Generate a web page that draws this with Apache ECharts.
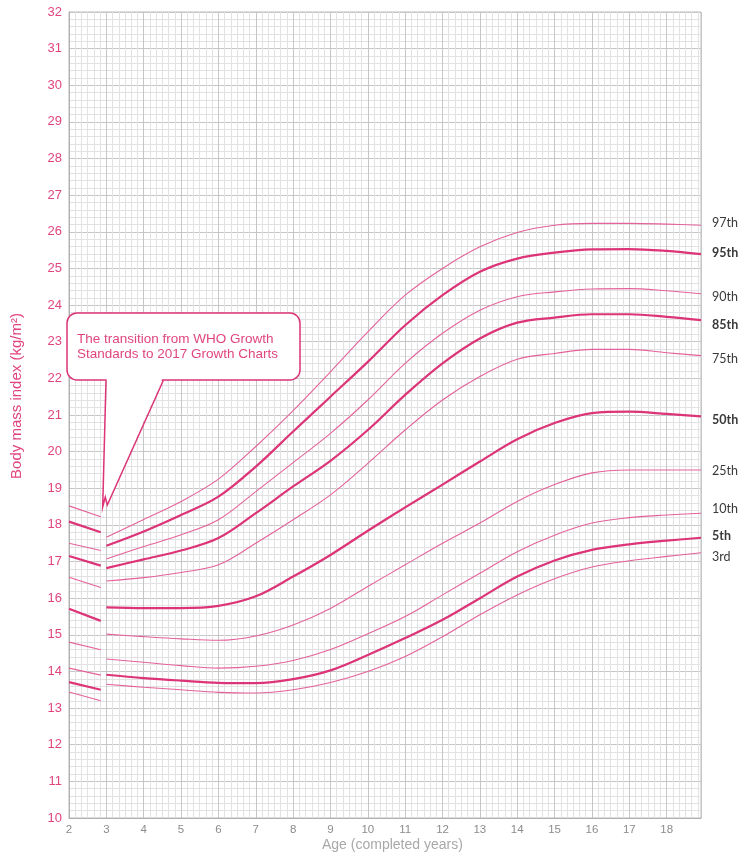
<!DOCTYPE html>
<html>
<head>
<meta charset="utf-8">
<title>BMI growth chart</title>
<style>html,body{margin:0;padding:0;background:#fff;}</style>
</head>
<body>
<div id="main" style="width:746px;height:867px;"></div>
<script src="https://cdn.jsdelivr.net/npm/echarts@6/dist/echarts.min.js"></script>
<script>
// ages: WHO part (2 to <3) and 2017 charts part (3 to 18y11m)
var whoAges = [2, 2.85];
var ages = [3, 4, 5, 6, 7, 8, 9, 10, 11, 12, 13, 14, 15, 16, 17, 18, 18.92];

var names = ['97th', '95th', '90th', '85th', '75th', '50th', '25th', '10th', '5th', '3rd'];
var boldNames = ['95th', '85th', '50th', '5th'];

// WHO segment, bmi at 2 and 2.85 years
var who97 = [18.52, 18.22];
var who95 = [18.09, 17.80];
var who90 = [17.50, 17.30];
var who85 = [17.15, 16.89];
var who75 = [16.57, 16.29];
var who50 = [15.71, 15.38];
var who25 = [14.80, 14.59];
var who10 = [14.09, 13.90];
var who5  = [13.71, 13.50];
var who3  = [13.44, 13.20];

// 2017 growth charts segment
var p97 = [17.66, 18.15, 18.64, 19.25, 20.14, 21.12, 22.18, 23.27, 24.27, 25.00, 25.59, 25.98, 26.18, 26.23, 26.23, 26.21, 26.18];
var p95 = [17.43, 17.82, 18.27, 18.77, 19.59, 20.55, 21.50, 22.45, 23.45, 24.27, 24.91, 25.27, 25.43, 25.52, 25.53, 25.48, 25.39];
var p90 = [17.07, 17.41, 17.73, 18.14, 18.91, 19.70, 20.50, 21.41, 22.41, 23.23, 23.86, 24.23, 24.36, 24.44, 24.45, 24.39, 24.31];
var p85 = [16.82, 17.06, 17.30, 17.64, 18.32, 19.05, 19.75, 20.59, 21.55, 22.41, 23.09, 23.52, 23.66, 23.75, 23.75, 23.68, 23.59];
var p75 = [16.47, 16.56, 16.70, 16.91, 17.50, 18.14, 18.82, 19.68, 20.59, 21.41, 22.05, 22.52, 22.68, 22.79, 22.79, 22.70, 22.62];
var p50 = [15.75, 15.73, 15.73, 15.79, 16.05, 16.59, 17.18, 17.84, 18.48, 19.10, 19.73, 20.34, 20.78, 21.05, 21.09, 21.03, 20.96];
var p25 = [15.02, 14.95, 14.89, 14.85, 14.97, 15.27, 15.72, 16.32, 16.91, 17.50, 18.05, 18.64, 19.10, 19.42, 19.50, 19.50, 19.50];
var p10 = [14.34, 14.25, 14.16, 14.09, 14.14, 14.30, 14.60, 15.03, 15.50, 16.09, 16.68, 17.27, 17.72, 18.05, 18.20, 18.27, 18.32];
var p5  = [13.91, 13.82, 13.75, 13.69, 13.68, 13.79, 14.03, 14.45, 14.91, 15.41, 16.00, 16.59, 17.03, 17.32, 17.47, 17.57, 17.65];
var p3  = [13.65, 13.57, 13.50, 13.43, 13.41, 13.50, 13.70, 14.00, 14.41, 14.95, 15.55, 16.09, 16.53, 16.85, 17.02, 17.14, 17.24];

var whoData = [who97, who95, who90, who85, who75, who50, who25, who10, who5, who3];
var chartData = [p97, p95, p90, p85, p75, p50, p25, p10, p5, p3];

// small vertical nudges for the right-hand labels
var labelShift = {'97th': -2, '95th': -1.5, '90th': 3.5, '85th': 5, '75th': 3.5, '50th': 3.5, '25th': 1, '10th': -4, '5th': -2, '3rd': 4.5};

var pink = '#dc3477';
var thinPink = '#e4629a';

function pairs(xs, ys) {
	var out = [];
	for (var i = 0; i < xs.length; i++) out.push([xs[i], ys[i]]);
	return out;
}

var series = [];
for (var i = 0; i < names.length; i++) {
	var isBold = boldNames.indexOf(names[i]) >= 0;
	var ls = {color: isBold ? pink : thinPink, width: isBold ? 2.2 : 1.1};
	series.push({
		name: names[i] + ' WHO',
		type: 'line',
		data: pairs(whoAges, whoData[i]),
		showSymbol: false,
		symbol: 'none',
		lineStyle: ls,
		silent: true
	});
	series.push({
		name: names[i],
		type: 'line',
		data: pairs(ages, chartData[i]),
		smooth: 0.35,
		showSymbol: false,
		symbol: 'none',
		lineStyle: ls,
		silent: true,
		endLabel: {
			show: true,
			formatter: '{a}',
			distance: 11,
			offset: [0, labelShift[names[i]]],
			color: '#3a3a3a',
			fontFamily: 'Lato',
			fontSize: 12.5,
			fontWeight: isBold ? 'bold' : 'normal'
		}
	});
}

var myChart = echarts.init(document.getElementById('main'));
myChart.setOption({
	animation: false,
	grid: {left: 69, right: 45, top: 12, bottom: 49, show: true, borderColor: '#b8b8b8', borderWidth: 1},
	xAxis: {
		type: 'value',
		min: 2,
		max: 18.92,
		interval: 1,
		axisLine: {show: true, lineStyle: {color: '#b0b0b0'}},
		axisTick: {show: false},
		axisLabel: {
			color: '#8c8c8c',
			fontFamily: 'Liberation Sans',
			fontSize: 11.5,
			margin: 6,
			formatter: function (v) { return Math.abs(v - Math.round(v)) < 1e-6 ? String(Math.round(v)) : ''; }
		},
		splitLine: {show: true, lineStyle: {color: '#c6c6c6', width: 1}},
		minorTick: {show: false, splitNumber: 6},
		minorSplitLine: {show: true, lineStyle: {color: '#e2e2e2', width: 1}}
	},
	yAxis: {
		type: 'value',
		min: 10,
		max: 32,
		interval: 1,
		axisLine: {show: true, lineStyle: {color: '#b0b0b0'}},
		axisTick: {show: false},
		axisLabel: {color: '#e0457f', fontFamily: 'Liberation Sans', fontSize: 13, margin: 7},
		splitLine: {show: true, lineStyle: {color: '#c6c6c6', width: 1}},
		minorTick: {show: false, splitNumber: 5},
		minorSplitLine: {show: true, lineStyle: {color: '#e2e2e2', width: 1}}
	},
	series: series,
	graphic: [
		{
			type: 'text',
			left: 322, top: 838,
			style: {text: 'Age (completed years)', fill: '#a8a8a8', font: '14px "Liberation Sans"'}
		},
		{
			type: 'text',
			x: 17, y: 396,
			rotation: Math.PI / 2,
			style: {text: 'Body mass index (kg/m²)', fill: '#e0457f', font: '15px "Liberation Sans"', align: 'center', verticalAlign: 'middle'}
		},
		{
			type: 'rect',
			shape: {x: 67, y: 313, width: 233, height: 67, r: 10},
			style: {fill: '#fff', stroke: pink, lineWidth: 1.5},
			z: 100
		},
		{
			type: 'polygon',
			shape: {points: [[106.8, 378], [103.5, 505], [107.5, 503], [162.5, 378]]},
			style: {fill: '#fff', stroke: null},
			z: 101
		},
		{
			type: 'polyline',
			shape: {points: [[106, 380.5], [102.7, 507], [105.3, 497], [107.3, 505], [163.3, 380.5]]},
			style: {fill: null, stroke: pink, lineWidth: 1.5},
			z: 102
		},
		{
			type: 'text',
			x: 77, y: 332,
			style: {text: 'The transition from WHO Growth\nStandards to 2017 Growth Charts', fill: '#e0457f', font: '13.5px "Liberation Sans"', lineHeight: 15},
			z: 103
		}
	]
});
</script>
</body>
</html>
